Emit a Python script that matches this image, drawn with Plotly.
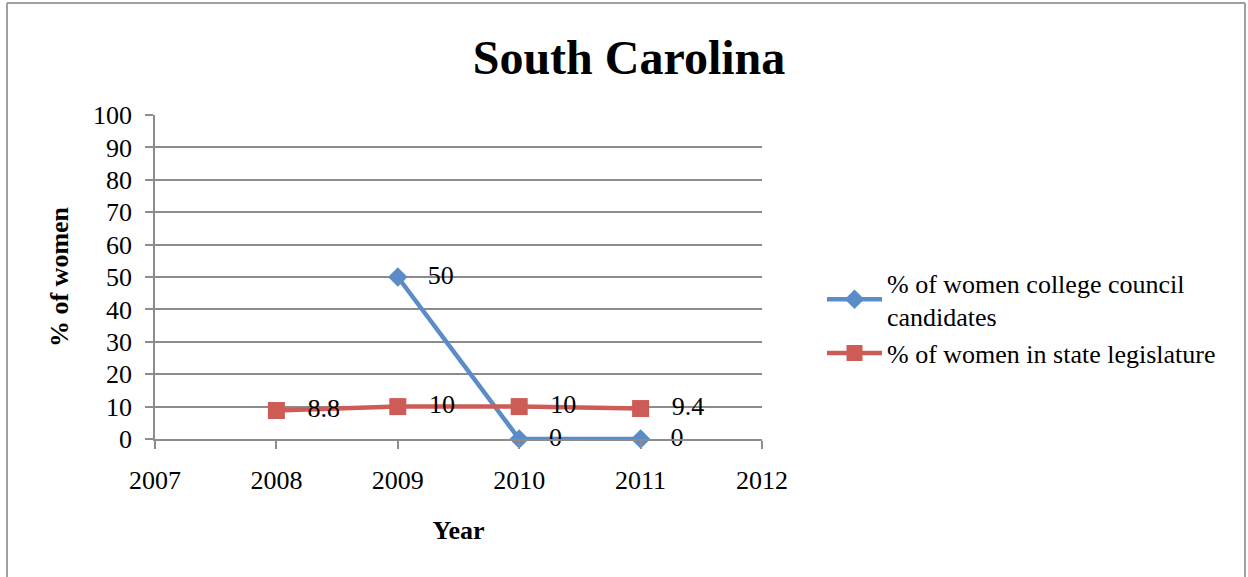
import plotly.graph_objects as go

years = [2008, 2009, 2010, 2011]
council = [None, 50, 0, 0]
legislature = [8.8, 10, 10, 9.4]
council_labels = ["", "50", "0", "0"]
legislature_labels = ["8.8", "10", "10", "9.4"]
x_ticks = [2007, 2008, 2009, 2010, 2011, 2012]
y_ticks = list(range(0, 101, 10))

FONT = "Liberation Serif, Times New Roman, serif"
BLUE = "#5B8CC8"
RED = "#CD5C57"
GRID = "#8C8C8C"
FS = 26

W, H = 1248, 577
L, R, T, B = 155, 762, 115, 439


def px_x(p):
    return (p - L) / (R - L)


def px_y(p):
    return (B - p) / (B - T)


fig = go.Figure()
fig.add_trace(go.Scatter(
    x=years, y=council, mode="lines+markers+text",
    name="% of women college council<br>candidates",
    line=dict(color=BLUE, width=4.5),
    marker=dict(symbol="diamond", size=15, color=BLUE),
    text=["   " + t for t in council_labels], textposition="middle right",
    textfont=dict(family=FONT, size=FS, color="black"),
    connectgaps=False, cliponaxis=False,
))
fig.add_trace(go.Scatter(
    x=years, y=legislature, mode="lines+markers+text",
    name="% of women in state legislature",
    line=dict(color=RED, width=4.5),
    marker=dict(symbol="square", size=17, color=RED),
    text=["   " + t for t in legislature_labels], textposition="middle right",
    textfont=dict(family=FONT, size=FS, color="black"),
    cliponaxis=False,
))

fig.update_layout(
    width=W, height=H,
    margin=dict(l=L, r=W - R, t=T, b=H - B, autoexpand=False),
    paper_bgcolor="white", plot_bgcolor="white",
    font=dict(family=FONT, size=FS, color="black"),
    title=dict(text="<b>South Carolina</b>", x=(473 + 785) / 2 / W, xanchor="center",
               y=1 - 57 / H, yanchor="middle",
               font=dict(family=FONT, size=48, color="black")),
    showlegend=True,
    legend=dict(x=px_x(822), y=px_y(259), xanchor="left", yanchor="top",
                font=dict(family=FONT, size=FS, color="black"),
                itemwidth=55, tracegroupgap=12, bgcolor="rgba(0,0,0,0)"),
    xaxis=dict(range=[2007, 2012], tickvals=x_ticks, ticktext=[str(v) for v in x_ticks],
               showgrid=False, zeroline=False, showline=True, linecolor=GRID, linewidth=1.5,
               ticks="outside", ticklen=8, tickcolor=GRID, tickwidth=1.5,
               ticklabelstandoff=9,
               title=dict(text="<b>Year</b>", font=dict(family=FONT, size=FS), standoff=27),
               tickfont=dict(family=FONT, size=FS)),
    yaxis=dict(range=[0, 100], tickvals=y_ticks,
               showgrid=True, gridcolor=GRID, gridwidth=1.5, zeroline=False,
               showline=True, linecolor=GRID, linewidth=1.5,
               ticks="outside", ticklen=8, tickcolor=GRID, tickwidth=1.5,
               ticklabelstandoff=8,
               title=dict(text="<b>% of women</b>", font=dict(family=FONT, size=FS), standoff=17),
               tickfont=dict(family=FONT, size=FS)),
    shapes=[
        dict(type="line", xref="paper", yref="paper",
             x0=px_x(7), x1=px_x(7), y0=px_y(3), y1=px_y(620),
             line=dict(color="#A0A0A0", width=2)),
        dict(type="line", xref="paper", yref="paper",
             x0=px_x(7), x1=px_x(1245), y0=px_y(3), y1=px_y(3),
             line=dict(color="#A0A0A0", width=2)),
        dict(type="line", xref="paper", yref="paper",
             x0=px_x(1245), x1=px_x(1245), y0=px_y(3), y1=px_y(620),
             line=dict(color="#A0A0A0", width=2)),
    ],
)

fig.write_html("out.html")
